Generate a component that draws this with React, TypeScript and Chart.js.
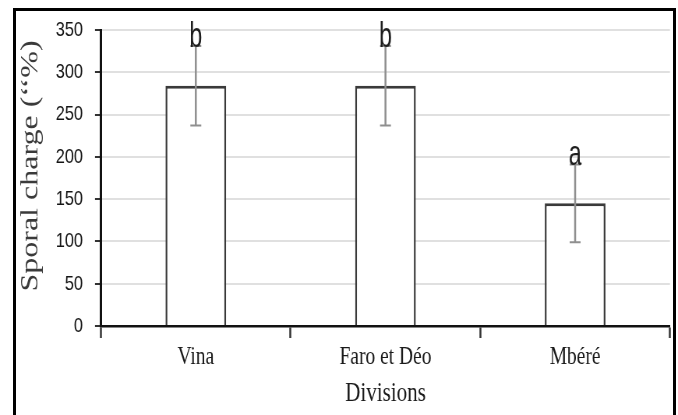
import React, { useEffect, useRef } from "react";
import { Chart, registerables } from "chart.js";

Chart.register(...registerables);

// ---- Data ----
const categories = ["Vina", "Faro et Déo", "Mbéré"];
const sporalCharge = [284, 284, 145];
const errors = [47, 47, 46];
const letters = ["b", "b", "a"];
const yMin = 0;
const yMax = 350;
const yStep = 50;

// Internal canvas is wider than its displayed width to reproduce the
// horizontally compressed look of the reference figure.
const DISPLAY_W = 678;
const DISPLAY_H = 415;
const INTERNAL_W = 870;

const errorLetterPlugin = {
  id: "errorLetters",
  afterDatasetsDraw(chart: any) {
    const { ctx } = chart;
    const y = chart.scales.y;
    const meta = chart.getDatasetMeta(0);
    ctx.save();
    meta.data.forEach((bar: any, i: number) => {
      const x = bar.x;
      const v = sporalCharge[i];
      const e = errors[i];
      const yTop = y.getPixelForValue(v + e);
      const yBot = y.getPixelForValue(v - e);
      ctx.strokeStyle = "#8f8f8f";
      ctx.lineWidth = 2.5;
      ctx.beginPath();
      ctx.moveTo(x, yTop);
      ctx.lineTo(x, yBot);
      ctx.stroke();
      ctx.lineWidth = 2;
      ctx.beginPath();
      ctx.moveTo(x - 7, yTop);
      ctx.lineTo(x + 7, yTop);
      ctx.moveTo(x - 7, yBot);
      ctx.lineTo(x + 7, yBot);
      ctx.stroke();

      ctx.save();
      ctx.translate(x, yTop + 1);
      ctx.scale(0.85, 1);
      ctx.font = "35px 'Liberation Sans'";
      ctx.fillStyle = "#1e1e1e";
      ctx.textAlign = "center";
      ctx.textBaseline = "alphabetic";
      ctx.fillText(letters[i], 0, 0);
      ctx.restore();
    });
    ctx.restore();
  },
};

export default function App() {
  const canvasRef = useRef<HTMLCanvasElement | null>(null);

  useEffect(() => {
    const canvas = canvasRef.current;
    if (!canvas) return;
    const chart = new Chart(canvas, {
      type: "bar",
      data: {
        labels: categories,
        datasets: [
          {
            data: sporalCharge,
            backgroundColor: "#ffffff",
            borderColor: "#3a3a3a",
            borderWidth: { top: 3, left: 2.5, right: 2.5, bottom: 0 } as any,
            borderSkipped: "start",
            categoryPercentage: 1,
            barPercentage: 0.32,
          },
        ],
      },
      options: {
        responsive: false,
        devicePixelRatio: 1,
        animation: false,
        layout: { padding: { top: 30, right: 10.3, left: 0, bottom: 0 } },
        plugins: {
          legend: { display: false },
          tooltip: { enabled: false },
        },
        scales: {
          x: {
            afterFit: (scale: any) => {
              scale.height = 89;
            },
            grid: {
              display: true,
              drawOnChartArea: false,
              drawTicks: true,
              tickLength: 12,
              tickColor: "#333333",
              tickWidth: 2.5,
              offset: true,
            },
            border: { display: true, color: "#111111", width: 2.5 },
            ticks: {
              font: { family: "'Liberation Serif'", size: 25 },
              color: "#1a1a1a",
              padding: 4,
            },
            title: {
              display: true,
              text: "Divisions",
              font: { family: "'Liberation Serif'", size: 27 },
              color: "#1a1a1a",
              padding: { top: 0, bottom: 5 },
            },
          },
          y: {
            min: yMin,
            max: yMax,
            afterFit: (scale: any) => {
              scale.width = 129.6;
            },
            grid: {
              color: "#e0e0e0",
              lineWidth: 2,
              drawTicks: true,
              tickLength: 7.7,
              tickColor: "#333333",
              tickWidth: 2,
            },
            border: { display: true, color: "#111111", width: 3 },
            ticks: {
              stepSize: yStep,
              font: { family: "'Liberation Sans'", size: 21 },
              color: "#141414",
              padding: 15.4,
            },
            title: {
              display: true,
              text: "   Sporal charge (‘‘%)",
              font: { family: "'Liberation Serif'", size: 32 },
              color: "#3a3a3a",
              padding: { top: 20.6, bottom: 0 },
            },
          },
        },
      },
      plugins: [errorLetterPlugin],
    });
    return () => chart.destroy();
  }, []);

  return (
    <>
      <canvas
        ref={canvasRef}
        width={INTERNAL_W}
        height={DISPLAY_H}
        style={{
          position: "fixed",
          left: 0,
          top: 0,
          width: DISPLAY_W + "px",
          height: DISPLAY_H + "px",
          background: "#ffffff",
        }}
      />
      <div
        style={{
          position: "fixed",
          left: 13,
          top: 8,
          width: 663,
          height: 430,
          border: "3px solid #000",
          boxSizing: "border-box",
          pointerEvents: "none",
        }}
      />
    </>
  );
}
